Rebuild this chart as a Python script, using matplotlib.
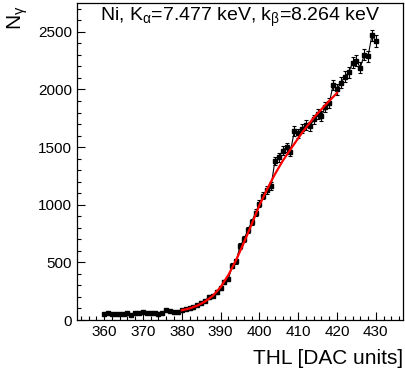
import matplotlib
matplotlib.use('Agg')
import matplotlib.pyplot as plt
from matplotlib.ticker import MultipleLocator
import numpy as np

plt.rcParams['font.family'] = ['Liberation Sans', 'DejaVu Sans']
plt.rcParams['mathtext.fontset'] = 'custom'
plt.rcParams['mathtext.rm'] = 'Liberation Sans'
plt.rcParams['mathtext.it'] = 'Liberation Sans:italic'

# threshold scan, Ni target
thl = list(range(360, 431))
counts = [55, 60, 50, 48, 48, 48, 58, 45, 58, 62,
          68, 62, 62, 58, 55, 62, 88, 78, 72, 68,
          85, 95, 100, 110, 130, 150, 165, 200, 210, 245,
          275, 330, 355, 470, 510, 640, 700, 780, 850, 930,
          1010, 1080, 1130, 1160, 1380, 1410, 1470, 1500, 1460, 1640,
          1620, 1660, 1690, 1680, 1740, 1790, 1770, 1850, 1880, 2040,
          2000, 2060, 2110, 2150, 2230, 2250, 2190, 2300, 2290, 2470,
          2420]
errors = np.sqrt(counts)

# fitted curve, 380..420
fit_thl = [380, 382, 384, 386, 388, 390, 392, 394, 396, 398,
           400, 402, 404, 406, 408, 411, 414, 417, 420]
fit_counts = [85, 100, 125, 160, 210, 285, 390, 520, 670, 830,
              995, 1135, 1265, 1380, 1480, 1625, 1755, 1865, 1970]

fig = plt.figure(figsize=(4.05, 3.79), dpi=100)
ax = fig.add_axes([77/405, 1 - 320/379, 326/405, 317/379])

ax.plot(thl, counts, color='black', lw=0.8, zorder=2)
ax.errorbar(thl, counts, yerr=errors, fmt='s', ms=2.2, color='black',
            ecolor='black', elinewidth=0.8, capsize=1.5, capthick=0.8, zorder=3)
ax.plot(fit_thl, fit_counts, color='red', lw=1.6, zorder=5)

ax.set_xlim(353, 437)
ax.set_ylim(0, 2750)
ax.xaxis.set_major_locator(MultipleLocator(10))
ax.xaxis.set_minor_locator(MultipleLocator(2))
ax.yaxis.set_major_locator(MultipleLocator(500))
ax.yaxis.set_minor_locator(MultipleLocator(100))
ax.tick_params(which='both', direction='in', width=0.8, labelsize=11, pad=3.5)
ax.tick_params(which='major', length=6)
ax.tick_params(which='minor', length=3)
for sp in ax.spines.values():
    sp.set_linewidth(0.9)

fig.text(240/405, 1 - 21/379,
         r'Ni, K$_{\mathrm{α}}$=7.477 keV, k$_{\mathrm{β}}$=8.264 keV',
         ha='center', va='baseline', fontsize=14)
fig.text(403/405, 1 - 364/379, 'THL [DAC units]',
         ha='right', va='baseline', fontsize=15)
fig.text(22/405, 1 - 5/379, r'N$_{\mathrm{γ}}$', rotation=90,
         rotation_mode='anchor', ha='right', va='baseline', fontsize=15)

fig.savefig('out.png', dpi=100)
